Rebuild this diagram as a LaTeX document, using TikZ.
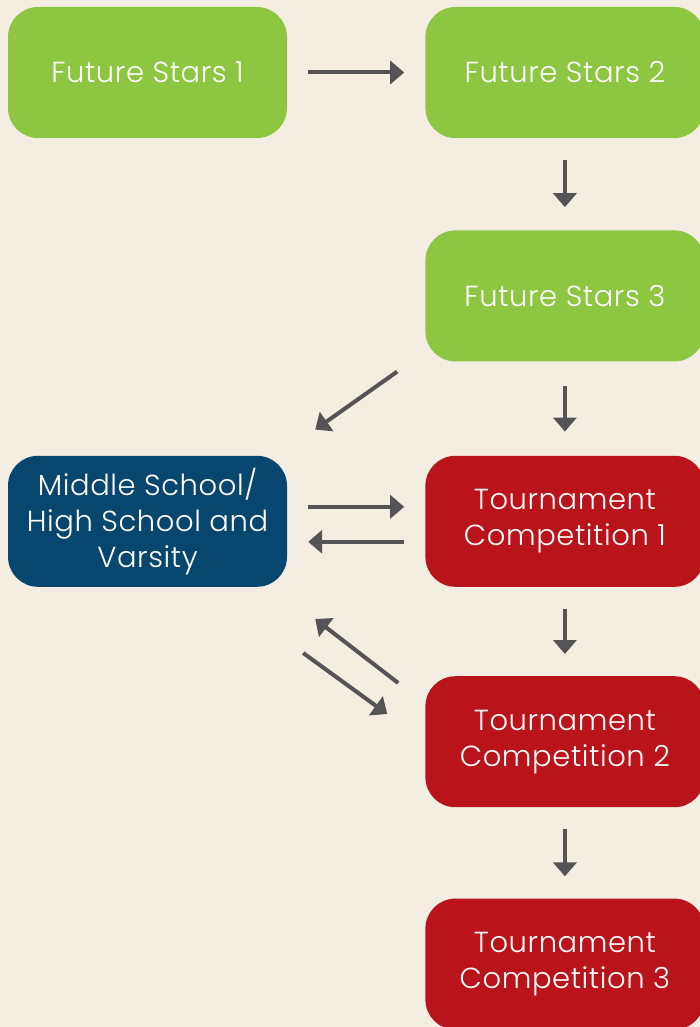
\documentclass[tikz,border=0pt]{standalone}
\usepackage{fontspec}
\setmainfont{Poppins Light}[LetterSpace=2]
\usetikzlibrary{positioning,arrows.meta}
\definecolor{bgcream}{HTML}{F4EEE2}
\definecolor{stargreen}{HTML}{8DC641}
\definecolor{tourred}{HTML}{B9131B}
\definecolor{schoolblue}{HTML}{07476F}
\definecolor{arrowgray}{HTML}{545456}
\tikzset{
stagebox/.style={
  rectangle,
  rounded corners=30pt,
  minimum width=279pt,
  minimum height=131pt,
  inner sep=0pt,
  text=white,
  align=center,
  font=\fontsize{29}{36}\selectfont
  }
}
\tikzset{
  flow/.style={
    draw=arrowgray,
    line width=4pt,
    -{Triangle[width=23pt,length=14pt]},
    shorten <=21pt,
    shorten >=21pt
  }
}

\begin{document}
\begin{tikzpicture}[>=latex]

\useasboundingbox[fill=bgcream] (0,0) rectangle (700pt,-1027pt);

\node[stagebox,fill=stargreen] at (147.5pt,-72.5pt) (fs1) {Future Stars 1};
\node[stagebox,fill=stargreen,right=138pt of fs1] (fs2) {Future Stars 2};
\node[stagebox,fill=stargreen,below=92pt of fs2] (fs3) {Future Stars 3};
\node[stagebox,fill=tourred,below=94pt of fs3] (tc1) {Tournament\\Competition 1};
\node[stagebox,fill=tourred,below=89pt of tc1] (tc2) {Tournament\\Competition 2};
\node[stagebox,fill=tourred,below=91pt of tc2] (tc3) {Tournament\\Competition 3};
\node[stagebox,fill=schoolblue,left=138pt of tc1] (ms) {Middle School/\\High School and\\Varsity};

\draw[flow]
  (fs1.east) -- (fs2.west);
\draw[flow,shorten <=22pt,shorten >=23pt]
  (fs2.south) -- (fs3.north);
\draw[flow,shorten <=24pt,shorten >=24pt]
  (fs3.south) -- (tc1.north);
\draw[flow,shorten <=22pt,shorten >=22pt]
  (tc1.south) -- (tc2.north);
\draw[flow,shorten <=22pt,shorten >=22pt]
  (tc2.south) -- (tc3.north);

\draw[flow,shorten <=0pt,shorten >=0pt]
  ([shift={(-28pt,-10pt)}]fs3.south west) -- ([shift={(28pt,26pt)}]ms.north east);

\draw[flow]
  ([yshift=14.5pt]ms.east) -- ([yshift=14.5pt]tc1.west);
\draw[flow]
  ([yshift=-20.5pt]tc1.west) -- ([yshift=-20.5pt]ms.east);

\draw[flow,shorten <=0pt,shorten >=0pt]
  ([shift={(-27pt,-7pt)}]tc2.north west) -- ([shift={(28pt,-32pt)}]ms.south east);
\draw[flow,shorten <=0pt,shorten >=0pt]
  ([shift={(16pt,-66pt)}]ms.south east) -- ([shift={(-38pt,-38pt)}]tc2.north west);

\end{tikzpicture}
\end{document}
